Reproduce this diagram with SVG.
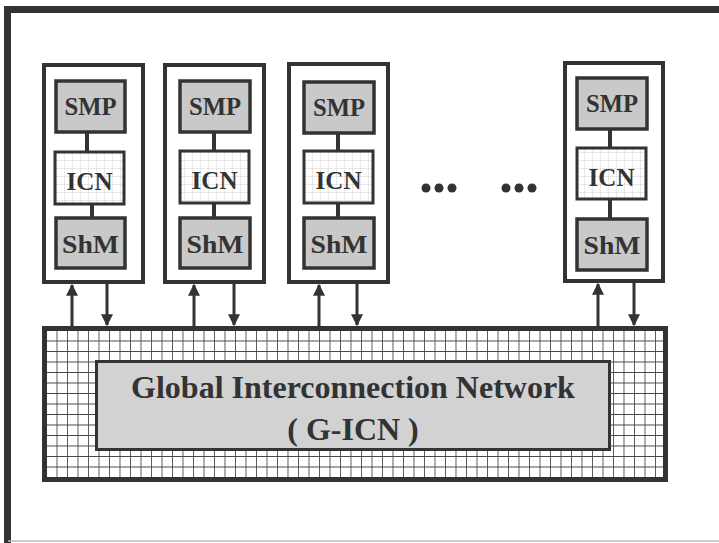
<svg xmlns="http://www.w3.org/2000/svg" width="719" height="543" viewBox="0 0 719 543">
<defs>
<pattern id="bigGrid" x="46" y="330" width="10.5" height="10.5" patternUnits="userSpaceOnUse">
<rect width="10.5" height="10.5" fill="#ffffff"/>
<path d="M0 0H10.5M0 0V10.5" stroke="#444" stroke-width="1.7" fill="none"/>
</pattern>
<pattern id="smallGrid" x="0" y="0" width="8" height="8" patternUnits="userSpaceOnUse">
<rect width="8" height="8" fill="#ffffff"/>
<path d="M0 0H8M0 0V8" stroke="#c8c8c8" stroke-width="0.8" fill="none"/>
</pattern>
<marker id="ah" viewBox="0 0 10 10" refX="9" refY="5" markerWidth="4" markerHeight="4" orient="auto" markerUnits="strokeWidth">
<path d="M0 0L10 5L0 10Z" fill="#333"/>
</marker>
</defs>
<style>
.frame{fill:none;stroke:#333;stroke-width:7}
.node{fill:#fff;stroke:#333;stroke-width:4}
.gray{fill:#c9c9c9;stroke:#333;stroke-width:3.5}
.icn{fill:url(#smallGrid);stroke:#333;stroke-width:3}
.lnk{stroke:#333;stroke-width:4}
.arr{stroke:#333;stroke-width:3;marker-end:url(#ah);fill:none}
.lbl{font-family:"Liberation Serif",serif;font-weight:bold;font-size:25px;fill:#333;text-anchor:middle}
.big{font-family:"Liberation Serif",serif;font-weight:bold;font-size:32px;fill:#333;text-anchor:middle}
.dot{fill:#333}
</style>
<rect width="719" height="543" fill="#ffffff"/>
<g id="frame">
<path class="frame" d="M7.5 543V9.5H719"/>
<line x1="8" y1="541" x2="719" y2="541" stroke="#bbb" stroke-width="1.5"/>
</g>
<g id="g-icn">
<rect x="44.5" y="328.5" width="621" height="151" fill="url(#bigGrid)" stroke="#333" stroke-width="5"/>
<rect x="96.5" y="361.5" width="513" height="88" fill="#d2d2d2" stroke="#333" stroke-width="3"/>
<text class="big" x="353" y="398">Global Interconnection Network</text>
<text class="big" x="353" y="440">( G-ICN )</text>
</g>
<g id="node1">
<rect class="node" x="44" y="65" width="99" height="217"/>
<rect class="gray" x="56" y="81" width="69" height="51"/>
<rect class="icn" x="55" y="152" width="69" height="52"/>
<rect class="gray" x="56" y="218" width="69" height="50"/>
<text class="lbl" x="90.5" y="115" textLength="52" lengthAdjust="spacingAndGlyphs">SMP</text>
<text class="lbl" x="89.5" y="190" textLength="46" lengthAdjust="spacingAndGlyphs">ICN</text>
<text class="lbl" x="90.5" y="253" textLength="57" lengthAdjust="spacingAndGlyphs">ShM</text>
</g>
<g id="node2">
<rect class="node" x="165" y="65" width="99" height="217"/>
<rect class="gray" x="180" y="81" width="70" height="51"/>
<rect class="icn" x="180" y="151" width="69" height="52"/>
<rect class="gray" x="180" y="218" width="70" height="50"/>
<text class="lbl" x="215" y="115" textLength="52" lengthAdjust="spacingAndGlyphs">SMP</text>
<text class="lbl" x="214.5" y="189" textLength="46" lengthAdjust="spacingAndGlyphs">ICN</text>
<text class="lbl" x="215" y="253" textLength="57" lengthAdjust="spacingAndGlyphs">ShM</text>
</g>
<g id="node3">
<rect class="node" x="289" y="64" width="99" height="218"/>
<rect class="gray" x="304" y="82" width="70" height="51"/>
<rect class="icn" x="304" y="151" width="69" height="52"/>
<rect class="gray" x="304" y="218" width="70" height="50"/>
<text class="lbl" x="339" y="116" textLength="52" lengthAdjust="spacingAndGlyphs">SMP</text>
<text class="lbl" x="338.5" y="189" textLength="46" lengthAdjust="spacingAndGlyphs">ICN</text>
<text class="lbl" x="339" y="253" textLength="57" lengthAdjust="spacingAndGlyphs">ShM</text>
</g>
<g id="dots">
<circle class="dot" cx="426" cy="188" r="4.5"/>
<circle class="dot" cx="439" cy="188" r="4.5"/>
<circle class="dot" cx="452" cy="188" r="4.5"/>
<circle class="dot" cx="506" cy="188" r="4.5"/>
<circle class="dot" cx="519" cy="188" r="4.5"/>
<circle class="dot" cx="532" cy="188" r="4.5"/>
</g>
<g id="node4">
<rect class="node" x="565" y="63" width="98" height="218"/>
<rect class="gray" x="577" y="78" width="70" height="51"/>
<rect class="icn" x="577" y="148" width="69" height="51"/>
<rect class="gray" x="577" y="219" width="70" height="51"/>
<text class="lbl" x="612" y="112" textLength="52" lengthAdjust="spacingAndGlyphs">SMP</text>
<text class="lbl" x="611.5" y="186" textLength="46" lengthAdjust="spacingAndGlyphs">ICN</text>
<text class="lbl" x="612" y="254" textLength="57" lengthAdjust="spacingAndGlyphs">ShM</text>
</g>
<g id="connectors">
<line class="lnk" x1="87" y1="132" x2="87" y2="152"/>
<line class="lnk" x1="92" y1="204" x2="92" y2="218"/>
<line class="lnk" x1="214" y1="132" x2="214" y2="151"/>
<line class="lnk" x1="214" y1="203" x2="214" y2="218"/>
<line class="lnk" x1="338" y1="133" x2="338" y2="151"/>
<line class="lnk" x1="338" y1="203" x2="338" y2="218"/>
<line class="lnk" x1="610" y1="129" x2="610" y2="148"/>
<line class="lnk" x1="610" y1="199" x2="610" y2="219"/>
<line class="arr" x1="72" y1="326" x2="72" y2="285"/>
<line class="arr" x1="107" y1="284" x2="107" y2="325"/>
<line class="arr" x1="194" y1="326" x2="194" y2="285"/>
<line class="arr" x1="234" y1="284" x2="234" y2="325"/>
<line class="arr" x1="319" y1="326" x2="319" y2="285"/>
<line class="arr" x1="357" y1="284" x2="357" y2="325"/>
<line class="arr" x1="598" y1="326" x2="598" y2="284"/>
<line class="arr" x1="634" y1="283" x2="634" y2="325"/>
</g>
</svg>
